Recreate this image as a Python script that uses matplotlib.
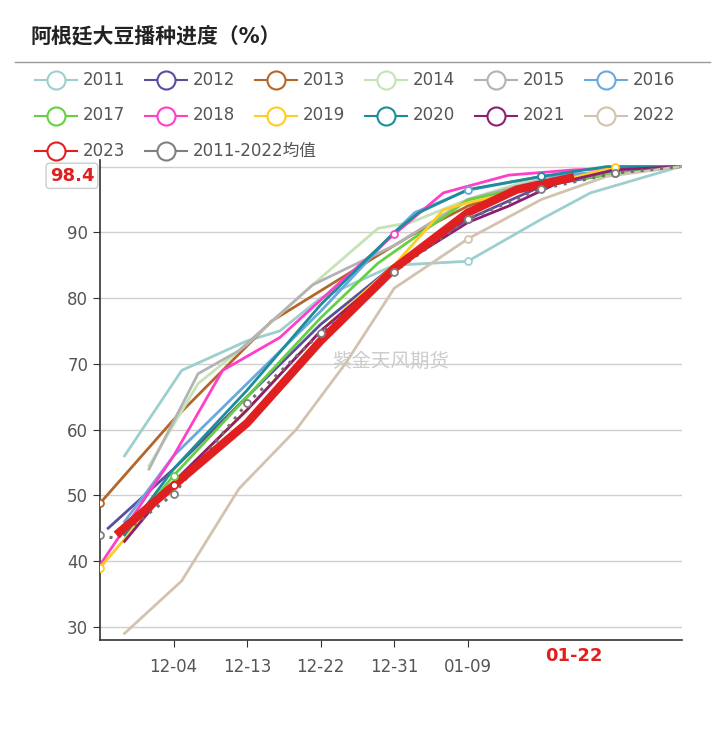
import matplotlib.pyplot as plt
from matplotlib import font_manager
from matplotlib.lines import Line2D

cjk = sorted({f.name for f in font_manager.fontManager.ttflist if 'CJK' in f.name})
plt.rcParams['font.family'] = ['DejaVu Sans'] + cjk[:1]

# day 0 = 11-25
tick_days = [9, 18, 27, 36, 45]
tick_labels = ['12-04', '12-13', '12-22', '12-31', '01-09']

series = {
    '2011': [(3, 56), (10, 69), (18, 73.5), (22, 75), (27, 80), (36, 85), (45, 85.6), (54, 92), (60, 96), (71, 100)],
    '2012': [(1, 45), (9, 54), (18, 65), (27, 76), (36, 85), (45, 92), (54, 97), (63, 99), (71, 100)],
    '2013': [(0, 48.8), (9, 61.5), (21, 76.5), (34, 86.5), (38, 89.5), (45, 94), (54, 98), (71, 100)],
    '2014': [(6, 54.5), (12, 67), (18, 73), (26, 82), (34, 90.6), (38, 91.5), (45, 95), (54, 98.5), (71, 100)],
    '2015': [(6, 54), (12, 68.5), (17, 72), (26, 82), (36, 88), (45, 95), (54, 98), (71, 100)],
    '2016': [(3, 46), (9, 56), (18, 67), (27, 78), (36, 90), (38.5, 93), (45, 96.4), (54, 98.5), (71, 100)],
    '2017': [(3, 44), (9, 53), (18, 65), (27, 77), (34, 85.3), (45, 94.9), (54, 97.5), (71, 100)],
    '2018': [(0, 39.4), (9, 56), (15, 69), (22, 74), (29, 82), (36, 89.7), (42, 96), (50, 98.7), (58, 99.5), (71, 100)],
    '2019': [(0, 39), (9, 52), (18, 63), (27, 75), (36, 85), (42, 93.4), (45, 94.5), (54, 97), (63, 100), (71, 100)],
    '2020': [(3, 44), (9, 54), (18, 66), (27, 79), (36, 90), (39, 93), (45, 96.5), (54, 98.5), (62, 100), (71, 100)],
    '2021': [(3, 43), (9, 52), (18, 63), (27, 75), (36, 84.5), (45, 91.5), (50, 94), (56, 97.5), (63, 99.5), (71, 100)],
    '2022': [(3, 29), (10, 37), (17, 51), (24, 60), (30, 70), (36, 81.5), (45, 89), (54, 95), (62, 98.5), (71, 100)],
    '2023': [(2, 44), (9, 51.5), (18, 61), (27, 73.5), (36, 84.5), (45, 93), (51, 96.5), (58, 98.4)],
    '2011-2022均值': [(0, 44), (2, 43.4), (9, 50.2), (18, 64), (27, 74.7), (36, 84), (45, 92), (54, 96.6), (63, 99), (71, 100)],
}
colors = {
    '2011': '#9ecfcf', '2012': '#5a4da0', '2013': '#b5652a', '2014': '#c5e3b5',
    '2015': '#b3b3b3', '2016': '#6aa8e0', '2017': '#66d044', '2018': '#ff3fc8',
    '2019': '#ffcc22', '2020': '#1e8d9a', '2021': '#8c1f70', '2022': '#d2c3ae',
    '2023': '#e02020', '2011-2022均值': '#808080',
}
# point markers visible on the chart (series, index)
markers = [('2013', 0), ('2019', 0), ('2018', 5), ('2017', 1), ('2023', 1), ('2012', 5), ('2012', 7),
           ('2016', 6), ('2020', 7), ('2019', 8), ('2011', 6), ('2022', 6),
           ('2011-2022均值', 0), ('2011-2022均值', 2), ('2011-2022均值', 3), ('2011-2022均值', 4),
           ('2011-2022均值', 5), ('2011-2022均值', 6), ('2011-2022均值', 7), ('2011-2022均值', 8)]

fig = plt.figure(figsize=(7.26, 7.36), dpi=100)
ax = fig.add_axes([100 / 726, 96 / 736, 582 / 726, 480 / 736])

for name, pts in series.items():
    xs = [p[0] for p in pts]
    ys = [p[1] for p in pts]
    if name == '2023':
        ax.plot(xs, ys, color=colors[name], lw=6, zorder=5, solid_capstyle='butt')
    elif name == '2011-2022均值':
        ax.plot(xs, ys, color='#707070', lw=2.2, ls=(0, (1, 2.2)), zorder=4)
    else:
        ax.plot(xs, ys, color=colors[name], lw=2, zorder=3)

for name, i in markers:
    x, y = series[name][i]
    ax.plot(x, y, 'o', ms=5, mfc='white', mec=colors[name], mew=1.3, zorder=6)

ax.set_xlim(0, 71.2)
ax.set_ylim(28, 101)
ax.set_yticks([30, 40, 50, 60, 70, 80, 90])
ax.set_xticks(tick_days)
ax.set_xticklabels(tick_labels)
for y in [30, 40, 50, 60, 70, 80, 90, 100]:
    ax.axhline(y, color='#d0d0d0', lw=1, zorder=0)
for s in ['top', 'right']:
    ax.spines[s].set_visible(False)
for s in ['left', 'bottom']:
    ax.spines[s].set_color('#333333')
    ax.spines[s].set_linewidth(1.2)
ax.tick_params(colors='#333333', labelcolor='#555555', labelsize=12, length=5)
ax.tick_params(axis='x', pad=8)

ax.text(58, 27.0, '01-22', color='#e02020', fontsize=13, fontweight='bold',
        ha='center', va='top', transform=ax.transData)
ax.text(-0.01, 98.6, '98.4', color='#e02020', fontsize=13, fontweight='bold', ha='right', va='center',
        transform=ax.get_yaxis_transform(),
        bbox=dict(boxstyle='round,pad=0.2', fc='white', ec='#cccccc'))
ax.text(0.5, 0.58, '紫金天风期货', color='#cccccc', fontsize=14, ha='center', va='center',
        transform=ax.transAxes, zorder=1)

# title and rule
fig.text(30 / 726, 1 - 37 / 736, '阿根廷大豆播种进度（%）', fontsize=15, fontweight='bold',
         color='#222222', va='center')
fig.add_artist(Line2D([15 / 726, 710 / 726], [1 - 62 / 736] * 2, color='#999999', lw=1))

# manual legend
names = list(series.keys())
for k, name in enumerate(names):
    r, c = divmod(k, 6)
    x0 = 35 + c * 110
    y0 = 1 - (80 + r * 35.5) / 736
    col = '#808080' if name == '2011-2022均值' else colors[name]
    fig.add_artist(Line2D([x0 / 726, (x0 + 42) / 726], [y0, y0], color=col, lw=1.5))
    fig.add_artist(Line2D([(x0 + 21) / 726], [y0], marker='o', ms=13, mfc='white', mec=col, mew=1.5))
    fig.text((x0 + 48) / 726, y0, name, fontsize=12, color='#555555', va='center')

fig.savefig('out.png', dpi=100)
